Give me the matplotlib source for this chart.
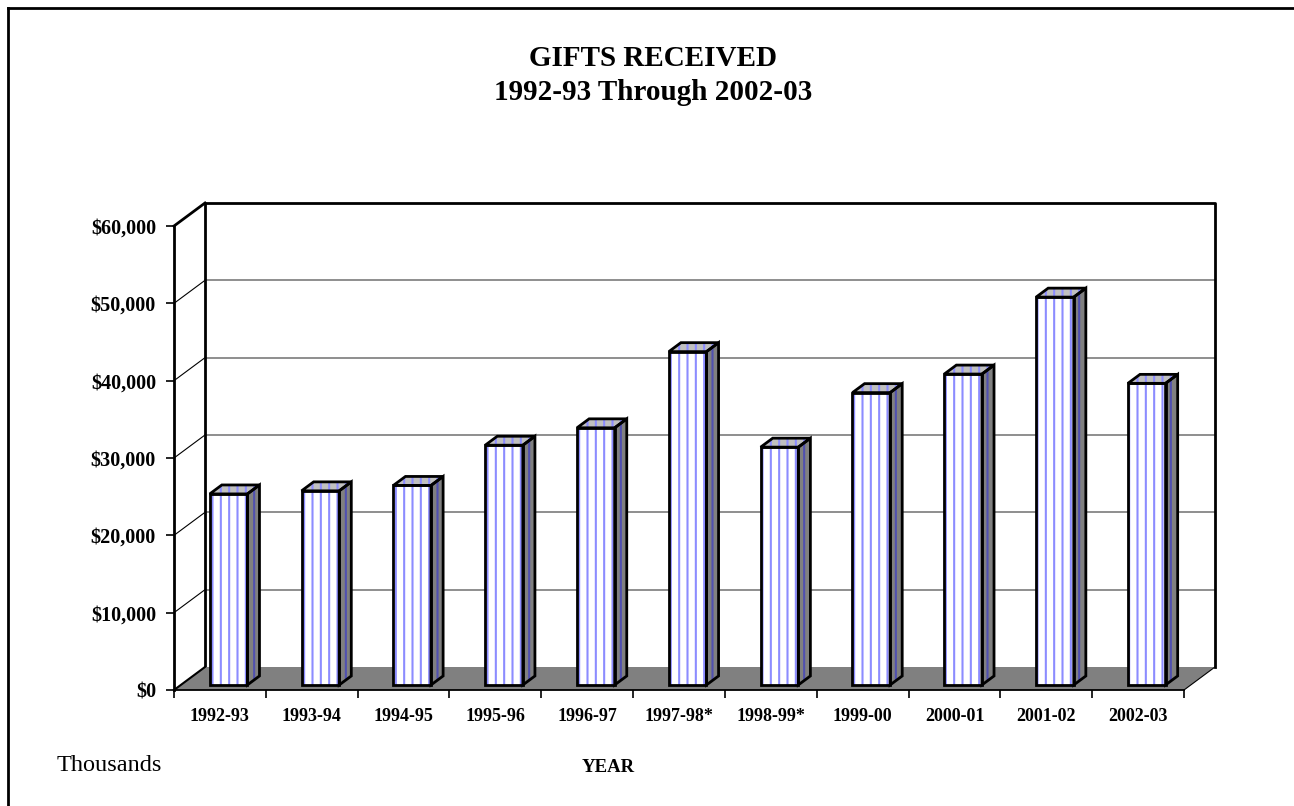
import matplotlib
matplotlib.use('Agg')
import matplotlib.pyplot as plt
from matplotlib.patches import Polygon
from matplotlib.lines import Line2D
from matplotlib.ticker import FuncFormatter
import numpy as np

# data (thousands of dollars)
years = ['1992-93', '1993-94', '1994-95', '1995-96', '1996-97', '1997-98*',
         '1998-99*', '1999-00', '2000-01', '2001-02', '2002-03']
gifts = [24700, 25100, 25800, 31000, 33250, 43100, 30750, 37800, 40200, 50150, 39000]
y_ticks = [0, 10000, 20000, 30000, 40000, 50000, 60000]

serif = ['Liberation Serif', 'DejaVu Serif']
W, H = 1294, 806
plt.rcParams['hatch.linewidth'] = 1.5

fig = plt.figure(figsize=(W / 100, H / 100), dpi=100)
fig.patch.set_facecolor('white')
ax = fig.add_axes([174 / W, 1 - 690 / H, 1010 / W, 464 / H])
ax.patch.set_visible(False)
n = len(years)
ymax = y_ticks[-1]
ax.set_xlim(0, n)
ax.set_ylim(0, ymax)

# oblique depth of the walls, in data units
DX = 31 / (1010 / n)
DY = 23 / 464 * ymax

# left wall: diagonal grid links + top edge
for t in y_ticks[1:-1]:
    ax.plot([0, DX], [t, t + DY], color='black', lw=0.8, clip_on=False, zorder=1)
ax.plot([0, DX], [ymax, ymax + DY], color='black', lw=2, clip_on=False, zorder=2)

# back wall gridlines + frame
for t in y_ticks[1:-1]:
    ax.plot([DX, n + DX], [t + DY, t + DY], color='#707070', lw=1.1, clip_on=False, zorder=1)
ax.plot([DX, DX, n + DX, n + DX], [DY, ymax + DY, ymax + DY, DY],
        color='black', lw=2, clip_on=False, zorder=2)

# floor
ax.add_patch(Polygon([(0, 0), (DX, DY), (n + DX, DY), (n, 0)], closed=True,
                     facecolor='#808080', edgecolor='none', clip_on=False, zorder=2))
ax.plot([0, DX], [0, DY], color='black', lw=1.5, clip_on=False, zorder=2.2)
ax.plot([n, n + DX], [0, DY], color='black', lw=0.8, clip_on=False, zorder=2.2)

# bars
w = 0.41
d0, bd = 0.22, 0.39
xc = np.arange(n) + 0.52
xl = xc - w / 2 + d0 * DX
base = d0 * DY
ax.bar(xl, gifts, width=w, bottom=base, align='edge', color='white',
       edgecolor='#8c8cff', hatch='||', linewidth=0, zorder=3)
ax.bar(xl, gifts, width=w, bottom=base, align='edge', fill=False,
       edgecolor='black', linewidth=2, joinstyle='miter', zorder=4)
for x0, v in zip(xl, gifts):
    x1 = x0 + w
    ddx, ddy = bd * DX, bd * DY
    side = [(x1, base), (x1 + ddx, base + ddy), (x1 + ddx, base + ddy + v), (x1, base + v)]
    top = [(x0, base + v), (x1, base + v), (x1 + ddx, base + v + ddy), (x0 + ddx, base + v + ddy)]
    ax.add_patch(Polygon(side, closed=True, facecolor='#808080', edgecolor='#5050b0',
                         hatch='||', linewidth=0, clip_on=False, zorder=3))
    ax.add_patch(Polygon(side, closed=True, fill=False, edgecolor='black',
                         linewidth=2, joinstyle='miter', clip_on=False, zorder=4))
    ax.add_patch(Polygon(top, closed=True, facecolor='#c0c0c0', edgecolor='#8c8cff',
                         hatch='||', linewidth=0, clip_on=False, zorder=3))
    ax.add_patch(Polygon(top, closed=True, fill=False, edgecolor='black',
                         linewidth=2, joinstyle='miter', clip_on=False, zorder=4))

# axes
for s in ['top', 'right']:
    ax.spines[s].set_visible(False)
ax.spines['left'].set_linewidth(2)
ax.spines['bottom'].set_linewidth(1.3)
ax.spines['bottom'].set_zorder(2.3)

ax.set_yticks(y_ticks)
ax.yaxis.set_major_formatter(FuncFormatter(lambda v, p: f'${v:,.0f}'))
ax.tick_params(axis='y', length=6, width=1.2, pad=7)
for lab in ax.get_yticklabels():
    lab.set_fontfamily(serif)
    lab.set_fontweight('bold')
    lab.set_fontsize(14.5)

ax.set_xticks(np.arange(n + 1))
ax.set_xticklabels([])
ax.set_xticks(np.arange(n) + 0.5, minor=True)
ax.set_xticklabels(years, minor=True, fontfamily=serif, fontweight='bold', fontsize=13)
ax.tick_params(axis='x', which='major', length=6, width=1.2)
ax.tick_params(axis='x', which='minor', length=0, pad=13)

# titles and notes
fig.text(653 / W, 1 - 58 / H, 'GIFTS RECEIVED', ha='center', va='center',
         fontsize=21, fontweight='bold', family=serif)
fig.text(653 / W, 1 - 93 / H, '1992-93 Through 2002-03', ha='center', va='center',
         fontsize=21, fontweight='bold', family=serif)
fig.text(57 / W, 1 - 771 / H, 'Thousands', ha='left', va='baseline',
         fontsize=17.5, family=serif)
fig.text(608 / W, 1 - 772 / H, 'YEAR', ha='center', va='baseline',
         fontsize=13.5, fontweight='bold', family=serif)

# outer frame (left and top only visible)
fig.add_artist(Line2D([8 / W, 8 / W], [0, 1 - 8 / H], transform=fig.transFigure,
                      color='black', lw=2))
fig.add_artist(Line2D([8 / W, 1], [1 - 8 / H, 1 - 8 / H], transform=fig.transFigure,
                      color='black', lw=2))

fig.savefig('out.png', dpi=100)
